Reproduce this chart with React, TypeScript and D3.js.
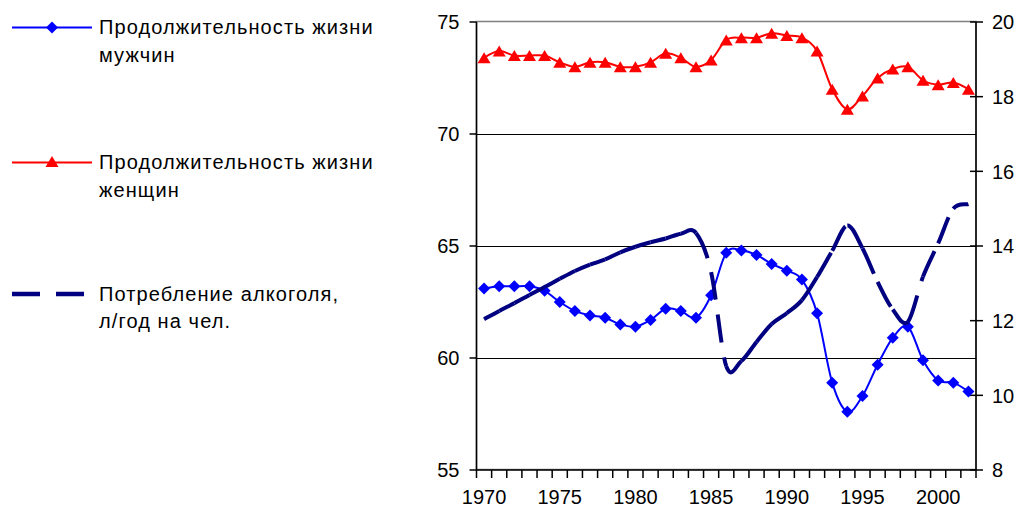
import React from "react";
import * as d3 from "d3";

const years: number[] = d3.range(1970, 2003);
const menLife: number[] = [
  63.1, 63.2, 63.2, 63.2, 63.0, 62.5, 62.1, 61.9, 61.8, 61.5,
  61.4, 61.7, 62.2, 62.1, 61.8, 62.8, 64.7, 64.8, 64.6, 64.2,
  63.9, 63.5, 62.0, 58.9, 57.6, 58.3, 59.7, 60.9, 61.4, 59.9,
  59.0, 58.9, 58.5,
];
const womenLife: number[] = [
  73.4, 73.7, 73.5, 73.5, 73.5, 73.2, 73.0, 73.2, 73.2, 73.0,
  73.0, 73.2, 73.6, 73.4, 73.0, 73.3, 74.2, 74.3, 74.3, 74.5,
  74.4, 74.3, 73.7, 72.0, 71.1, 71.7, 72.5, 72.9, 73.0, 72.4,
  72.2, 72.3, 72.0,
];
const alcohol: number[] = [
  12.04, 12.26, 12.47, 12.69, 12.9, 13.12, 13.33, 13.5, 13.64, 13.83,
  13.98, 14.1, 14.2, 14.33, 14.35, 13.3, 10.78, 10.92, 11.43, 11.91,
  12.2, 12.55, 13.17, 13.87, 14.55, 13.94, 13.04, 12.3, 11.97, 13.18,
  14.07, 15.0, 15.12,
];
const leftTicks: number[] = [55, 60, 65, 70, 75];
const rightTicks: number[] = [8, 10, 12, 14, 16, 18, 20];
const gridValues: number[] = [60, 65, 70];
const yearLabels: number[] = [1970, 1975, 1980, 1985, 1990, 1995, 2000];
const legendLabels: string[][] = [
  ["Продолжительность жизни", "мужчин"],
  ["Продолжительность жизни", "женщин"],
  ["Потребление алкоголя,", "л/год на чел."],
];

const FONT = "'Liberation Sans', Arial, sans-serif";
const BLUE = "#0000FF";
const RED = "#FF0000";
const NAVY = "#000080";

const diamond = (x: number, y: number, r = 6) =>
  `M${x},${y - r}L${x + r},${y}L${x},${y + r}L${x - r},${y}Z`;
const triangle = (x: number, y: number) =>
  `M${x},${y - 5.5}L${x + 6.5},${y + 5.5}L${x - 6.5},${y + 5.5}Z`;

export default function App() {
  const W = 1018, H = 508;
  const left = 476.5, right = 976, top = 22, bottom = 470;
  const x = d3.scaleBand<string>().domain(years.map(String)).range([left, right]).padding(0);
  const cx = (yr: number) => (x(String(yr)) as number) + x.bandwidth() / 2;
  const yL = d3.scaleLinear().domain([55, 75]).range([bottom, top]);
  const yR = d3.scaleLinear().domain([8, 20]).range([bottom, top]);
  const crisp = (v: number) => Math.round(v) + 0.5;

  const lineL = d3
    .line<number>()
    .x((_, i) => cx(years[i]))
    .y((d) => yL(d))
    .curve(d3.curveCardinal.tension(0));

  // alcohol: per-segment Catmull-Rom so the dash pattern restarts each segment
  const pts = alcohol.map((v, i) => [cx(years[i]), yR(v)] as [number, number]);
  const segs: string[] = [];
  for (let i = 0; i < pts.length - 1; i++) {
    const p0 = pts[Math.max(0, i - 1)];
    const p1 = pts[i];
    const p2 = pts[i + 1];
    const p3 = pts[Math.min(pts.length - 1, i + 2)];
    const c1 = [p1[0] + (p2[0] - p0[0]) / 6, p1[1] + (p2[1] - p0[1]) / 6];
    const c2 = [p2[0] - (p3[0] - p1[0]) / 6, p2[1] - (p3[1] - p1[1]) / 6];
    const p = d3.path();
    p.moveTo(p1[0], p1[1]);
    p.bezierCurveTo(c1[0], c1[1], c2[0], c2[1], p2[0], p2[1]);
    segs.push(p.toString());
  }

  const boundaries = d3.range(years.length + 1).map((k) => left + k * x.bandwidth());
  const legendY = [27.5, 162.5, 294];

  return (
    <svg
      width={W}
      height={H}
      style={{ position: "absolute", left: 0, top: 0, background: "#fff" }}
      fontFamily={FONT}
    >
      <rect x={0} y={0} width={W} height={H} fill="#fff" />
      {/* plot border */}
      <rect x={left} y={crisp(top) - 1} width={right - left} height={bottom - top} fill="none" stroke="#808080" strokeWidth={1.5} />
      {gridValues.map((v) => (
        <line key={v} x1={left} x2={right} y1={crisp(yL(v))} y2={crisp(yL(v))} stroke="#000" strokeWidth={1} />
      ))}
      {/* axes */}
      <line x1={left} x2={left} y1={top} y2={bottom} stroke="#000" strokeWidth={1.5} />
      <line x1={right} x2={right} y1={top} y2={bottom} stroke="#000" strokeWidth={1.5} />
      <line x1={left} x2={right} y1={bottom} y2={bottom} stroke="#000" strokeWidth={1.5} />
      {leftTicks.map((v) => (
        <g key={v}>
          <line x1={left - 7} x2={left} y1={yL(v)} y2={yL(v)} stroke="#000" strokeWidth={1.5} />
          <text x={left - 17} y={yL(v)} dy="0.36em" textAnchor="end" fontSize={20} fill="#000">
            {v}
          </text>
        </g>
      ))}
      {rightTicks.map((v) => (
        <g key={v}>
          <line x1={right - 6} x2={right + 7} y1={yR(v)} y2={yR(v)} stroke="#000" strokeWidth={1.5} />
          <text x={right + 16} y={yR(v)} dy="0.36em" textAnchor="start" fontSize={20} fill="#000">
            {v}
          </text>
        </g>
      ))}
      {boundaries.map((bx, k) => (
        <line key={k} x1={bx} x2={bx} y1={bottom} y2={bottom + 8} stroke="#000" strokeWidth={1.5} />
      ))}
      {yearLabels.map((yr) => (
        <text key={yr} x={cx(yr)} y={504} textAnchor="middle" fontSize={20} fill="#000">
          {yr}
        </text>
      ))}

      {/* men */}
      <path d={lineL(menLife) || ""} fill="none" stroke={BLUE} strokeWidth={2} />
      {menLife.map((v, i) => (
        <path key={i} d={diamond(cx(years[i]), yL(v))} fill={BLUE} />
      ))}
      {/* women */}
      <path d={lineL(womenLife) || ""} fill="none" stroke={RED} strokeWidth={2} />
      {womenLife.map((v, i) => (
        <path key={i} d={triangle(cx(years[i]), yL(v))} fill={RED} />
      ))}
      {/* alcohol */}
      {segs.map((d, i) => (
        <path key={i} d={d} fill="none" stroke={NAVY} strokeWidth={4} strokeDasharray="28 15" />
      ))}

      {/* legend */}
      <g>
        <line x1={12} x2={92} y1={legendY[0]} y2={legendY[0]} stroke={BLUE} strokeWidth={2} />
        <path d={diamond(52, legendY[0])} fill={BLUE} />
        <line x1={12} x2={92} y1={legendY[1]} y2={legendY[1]} stroke={RED} strokeWidth={2} />
        <path d={triangle(52, legendY[1] - 1)} fill={RED} />
        <line x1={12} x2={92} y1={legendY[2]} y2={legendY[2]} stroke={NAVY} strokeWidth={4.5} strokeDasharray="28 16" />
        {legendLabels.map((lines, i) => (
          <text key={i} x={99} fontSize={20} fill="#000" letterSpacing={1.1}>
            <tspan x={99} y={legendY[i] + 6.5}>{lines[0]}</tspan>
            <tspan x={99} y={legendY[i] + 34}>{lines[1]}</tspan>
          </text>
        ))}
      </g>
    </svg>
  );
}
